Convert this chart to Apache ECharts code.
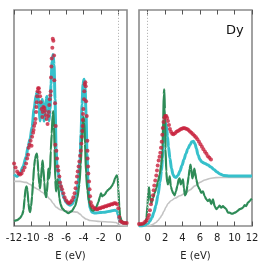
<!DOCTYPE html>
<html><head><meta charset="utf-8">
<script src="https://cdn.jsdelivr.net/npm/echarts@6/dist/echarts.min.js"></script>
<style>html,body{margin:0;padding:0;background:#fff}#c{width:266px;height:266px}</style>
</head><body><div id="c"></div>
<script>
const tickLeft = [-12,-10,-8,-6,-4,-2,0];
const tickRight = [0,2,4,6,8,10,12];
const panelLabel = 'Dy';

const redLeft = [[-11.99,63],[-11.82,59],[-11.64,55],[-11.47,53],[-11.30,52],[-11.13,53],[-10.95,56],[-10.78,59],[-10.61,63],[-10.49,68],[-10.38,72],[-10.32,79],[-10.21,82],[-10.09,86],[-9.98,81],[-9.92,90],[-9.80,94],[-9.75,97],[-9.69,101],[-9.57,104],[-9.52,108],[-9.46,115],[-9.43,120],[-9.38,125],[-9.34,131],[-9.29,136],[-9.23,139],[-9.14,139],[-9.08,135],[-9.00,131],[-8.92,125],[-8.83,118],[-8.74,110],[-8.69,115],[-8.62,120],[-8.51,119],[-8.43,116],[-8.34,112],[-8.25,108],[-8.14,103],[-8.06,111],[-8.00,115],[-7.94,122],[-7.89,128],[-7.82,132],[-7.77,136],[-7.74,150],[-7.70,161],[-7.66,169],[-7.59,180],[-7.54,189],[-7.47,187],[-7.39,172],[-7.36,147],[-7.28,124],[-7.20,101],[-7.25,82],[-7.13,76],[-7.05,68],[-6.97,60],[-6.90,56],[-6.78,50],[-6.70,44],[-6.59,40],[-6.47,37],[-6.32,33],[-6.18,29],[-6.01,26],[-5.84,24],[-5.67,23],[-5.49,24],[-5.32,26],[-5.17,29],[-5.03,33],[-4.92,38],[-4.83,44],[-4.75,50],[-4.67,55],[-4.57,60],[-4.48,65],[-4.40,71],[-4.32,76],[-4.25,83],[-4.20,90],[-4.15,96],[-4.11,101],[-4.09,107],[-4.06,113],[-4.02,118],[-3.94,128],[-3.91,136],[-3.86,143],[-3.79,145],[-3.75,141],[-3.71,126],[-3.63,111],[-3.56,86],[-3.55,76],[-3.54,68],[-3.48,60],[-3.45,53],[-3.37,45],[-3.31,37],[-3.25,30],[-3.17,24],[-3.06,21],[-2.91,19],[-2.74,18],[-2.56,17],[-2.39,17],[-2.22,18],[-2.05,18],[-1.87,19],[-1.70,19],[-1.53,20],[-1.36,20],[-1.18,21],[-1.01,21],[-0.84,22],[-0.67,22],[-0.49,23],[-0.32,23],[-0.15,22],[0.0,18],[0.11,9],[0.23,5],[0.39,4],[0.57,3],[0.77,3],[0.97,3]];

const cyanLeft = [[-11.99,52],[-11.64,50],[-11.30,53],[-10.95,60],[-10.61,70],[-10.38,80],[-10.15,88],[-9.92,100],[-9.69,118],[-9.46,132],[-9.34,135],[-9.23,131],[-9.11,118],[-9.00,106],[-8.89,116],[-8.77,128],[-8.66,124],[-8.54,106],[-8.43,113],[-8.31,128],[-8.20,131],[-8.08,120],[-7.97,106],[-7.85,118],[-7.74,143],[-7.62,166],[-7.51,173],[-7.39,163],[-7.28,128],[-7.16,78],[-7.05,60],[-6.93,54],[-6.82,49],[-6.70,43],[-6.47,34],[-6.24,28],[-6.01,24],[-5.78,22],[-5.55,21],[-5.32,22],[-5.09,25],[-4.86,31],[-4.63,43],[-4.40,66],[-4.29,93],[-4.17,123],[-4.06,143],[-3.94,148],[-3.83,140],[-3.71,113],[-3.60,73],[-3.48,43],[-3.37,26],[-3.25,18],[-3.02,14],[-2.68,13],[-2.10,13.5],[-1.53,14],[-0.95,15],[-0.38,16],[-0.15,15],[0.0,11],[0.11,6],[0.31,4],[0.66,3],[1.0,3]];

const greenLeft = [[-11.99,5],[-11.64,6],[-11.30,8],[-11.07,11],[-10.90,16],[-10.78,28],[-10.66,38],[-10.55,40],[-10.45,36],[-10.34,23],[-10.22,15],[-10.15,14],[-10.03,20],[-9.92,30],[-9.80,45],[-9.69,60],[-9.57,68],[-9.46,72],[-9.38,73],[-9.29,68],[-9.20,54],[-9.08,42],[-9.00,38],[-8.89,48],[-8.80,60],[-8.71,66],[-8.62,58],[-8.51,44],[-8.40,31],[-8.31,29],[-8.22,34],[-8.12,45],[-8.05,58],[-7.97,48],[-7.85,56],[-7.77,76],[-7.66,93],[-7.56,112],[-7.48,116],[-7.39,100],[-7.33,78],[-7.25,46],[-7.16,35],[-7.07,42],[-6.99,47],[-6.90,41],[-6.78,28],[-6.64,22],[-6.47,18],[-6.13,15],[-5.75,13],[-5.36,15],[-4.98,20],[-4.71,28],[-4.48,42],[-4.32,62],[-4.21,82],[-4.09,102],[-4.00,110],[-3.91,104],[-3.83,83],[-3.71,53],[-3.56,36],[-3.33,23],[-3.06,16],[-2.87,15.5],[-2.68,17],[-2.48,20],[-2.30,24],[-2.10,30],[-1.99,33],[-1.84,30],[-1.70,31],[-1.53,32],[-1.33,35],[-1.15,36.5],[-0.95,38],[-0.76,40],[-0.57,43],[-0.38,48],[-0.18,51],[-0.07,49],[0.0,38],[0.11,20],[0.20,10],[0.39,5],[0.77,3],[1.0,3]];

const grayLeft = [[-11.99,45],[-11.30,45],[-10.61,44],[-10.15,42],[-9.69,39],[-9.23,37],[-8.77,34],[-8.31,31],[-7.85,27],[-7.51,23],[-7.16,19],[-6.70,16.5],[-6.01,15],[-5.32,14.5],[-4.75,14],[-4.40,12],[-4.06,9],[-3.71,7],[-3.25,5.5],[-2.10,4.5],[-0.95,4],[-0.26,3.5],[0.02,2],[0.31,0.5],[1.0,0]];

const redRight = [[-1.0,2],[-0.77,2],[-0.54,2.5],[-0.31,4],[-0.14,5.5],[0.03,8],[0.15,11],[0.26,16],[0.38,22],[0.49,26.5],[0.61,31],[0.69,36],[0.76,41],[0.87,46],[0.99,51],[1.07,56],[1.15,61],[1.26,66],[1.36,70],[1.45,74],[1.53,79],[1.61,85],[1.68,92],[1.74,99],[1.82,105],[1.91,109],[2.02,111],[2.14,111],[2.24,109],[2.33,106],[2.45,102],[2.56,98],[2.68,95],[2.82,93],[2.97,92.5],[3.14,93.5],[3.31,95],[3.48,96],[3.66,97],[3.83,98],[4.0,98.5],[4.17,99],[4.34,98.5],[4.52,98],[4.69,97],[4.86,95.5],[5.03,94],[5.21,92.5],[5.38,91],[5.55,89.5],[5.72,87.5],[5.90,85],[6.07,82.5],[6.24,80],[6.41,77.5],[6.59,75],[6.76,73],[6.93,70.5],[7.10,69],[7.28,67]];

const cyanRight = [[-1.0,0],[-0.66,0],[-0.31,1],[0.03,2.5],[0.26,5],[0.49,8.5],[0.72,14],[0.95,21],[1.18,31],[1.41,44],[1.59,56],[1.70,68],[1.82,83],[1.93,98],[2.05,104],[2.16,101],[2.28,90],[2.39,80],[2.56,68],[2.74,58],[2.91,52],[3.08,49.5],[3.25,49],[3.48,51],[3.71,55.5],[3.94,61],[4.17,67],[4.40,73],[4.63,78],[4.86,82],[5.08,85],[5.26,85.5],[5.44,83],[5.61,78],[5.78,72],[6.01,67],[6.24,64.5],[6.59,63],[6.93,61.5],[7.28,59.5],[7.62,57],[7.97,54.5],[8.31,52.5],[8.77,51],[9.46,50.5],[10.61,50.5],[12.0,50.5]];

const greenRight = [[-1.0,1],[-0.66,1.5],[-0.43,2],[-0.25,3.5],[-0.14,8],[-0.02,21],[0.07,35],[0.15,39],[0.24,32],[0.33,25],[0.44,23],[0.61,28],[0.80,33],[0.99,38],[1.18,45],[1.38,52],[1.56,62],[1.70,76],[1.79,108],[1.85,133],[1.91,138],[1.98,118],[2.05,78],[2.14,55],[2.24,44],[2.33,42],[2.45,47],[2.54,50],[2.66,40],[2.79,36],[2.94,33],[3.10,31],[3.25,35],[3.43,41],[3.56,47],[3.68,48],[3.80,42],[3.94,45],[4.06,47],[4.17,38],[4.29,31],[4.44,33],[4.57,41],[4.71,50],[4.83,58],[4.92,62],[5.01,58],[5.13,48],[5.24,50],[5.36,58],[5.46,54],[5.59,47],[5.78,40],[5.98,37],[6.16,33.5],[6.36,35],[6.55,30],[6.74,27],[6.93,25],[7.13,27],[7.31,22],[7.51,27],[7.70,20],[7.89,17],[8.08,18.5],[8.28,20.5],[8.46,18.5],[8.66,20],[8.85,18.5],[9.03,17],[9.23,13.5],[9.43,13.5],[9.63,12.5],[9.80,12.5],[10.01,13.5],[10.18,14],[10.37,15.5],[10.57,17],[10.78,17.5],[10.95,18.5],[11.15,21],[11.33,20],[11.53,23.5],[11.72,25],[11.91,27],[12.0,27.5]];

const grayRight = [[-1.0,0],[-0.2,0],[0.26,0.5],[0.61,1.7],[0.95,3.5],[1.18,5.5],[1.41,8],[1.64,11],[1.87,15],[2.10,19],[2.33,22.5],[2.68,25.5],[3.14,28],[3.71,30.5],[4.29,33],[4.86,36.5],[5.44,40.5],[6.01,44],[6.59,46.5],[7.16,48],[7.85,48.8],[8.89,49],[10.61,49],[12.0,49]];

const FONT = 'DejaVu Sans';
const C_RED = '#c8203c', C_CYAN = '#36c0cb', C_GREEN = '#2e8b57', C_GRAY = '#c4c4c4';

function bottomAxis(idx, min, max, ticks) {
  return {
    type: 'value', gridIndex: idx, position: 'bottom', min: min, max: max,
    name: 'E (eV)', nameLocation: 'middle', nameGap: 25,
    nameTextStyle: {fontFamily: FONT, fontSize: 10, color: '#222'},
    axisLine: {show: false},
    axisTick: {show: true, inside: true, length: 4.5, customValues: ticks, lineStyle: {color: '#555', width: 1}},
    axisLabel: {show: true, margin: 7, customValues: ticks, fontFamily: FONT, fontSize: 10, color: '#222'},
    splitLine: {show: false}
  };
}
function topAxis(idx, min, max, ticks) {
  return {
    type: 'value', gridIndex: idx, position: 'top', min: min, max: max,
    axisLine: {show: false},
    axisTick: {show: true, inside: true, length: 4.5, customValues: ticks, lineStyle: {color: '#555', width: 1}},
    axisLabel: {show: false},
    splitLine: {show: false}
  };
}
function yAx(idx) {
  return {type: 'value', gridIndex: idx, min: 0, max: 218, show: false};
}
function lineS(data, xi, color, width, smooth, z) {
  return {type: 'line', xAxisIndex: xi, yAxisIndex: xi < 2 ? 0 : 1, data: data, showSymbol: false, symbol: 'none',
    smooth: smooth, smoothMonotone: 'x', lineStyle: {color: color, width: width}, z: z, silent: true, animation: false};
}
function zeroLine(xi) {
  return {type: 'line', xAxisIndex: xi, yAxisIndex: xi < 2 ? 0 : 1, data: [], z: 1, silent: true,
    markLine: {symbol: 'none', silent: true, animation: false, label: {show: false},
      lineStyle: {color: '#b8b8b8', type: [1.2, 1.8], width: 1}, data: [{xAxis: 0}]}};
}
function redS(data, xi) {
  return {type: 'scatter', xAxisIndex: xi, yAxisIndex: xi < 2 ? 0 : 1, data: data, symbol: 'circle', symbolSize: 4,
    itemStyle: {color: C_RED}, z: 10, silent: true, animation: false};
}

const chart = echarts.init(document.getElementById('c'), null, {renderer: 'canvas'});
chart.setOption({
  animation: false,
  backgroundColor: '#fff',
  grid: [
    {left: 14, top: 10, width: 113, height: 218, show: true, borderColor: '#8a8a8a', borderWidth: 1.6, backgroundColor: 'transparent'},
    {left: 139, top: 10, width: 113, height: 218, show: true, borderColor: '#8a8a8a', borderWidth: 1.6, backgroundColor: 'transparent'}
  ],
  xAxis: [
    bottomAxis(0, -12, 1, tickLeft), topAxis(0, -12, 1, tickLeft),
    bottomAxis(1, -1, 12, tickRight), topAxis(1, -1, 12, tickRight)
  ],
  yAxis: [yAx(0), yAx(1)],
  graphic: [{type: 'text', left: 226, top: 24, style: {text: panelLabel, fontFamily: FONT, fontSize: 13, fill: '#111'}}],
  series: [
    zeroLine(0), zeroLine(2),
    lineS(grayLeft, 0, C_GRAY, 1.6, 0.3, 2),
    lineS(cyanLeft, 0, C_CYAN, 3, 0.3, 3),
    lineS(greenLeft, 0, C_GREEN, 2.2, 0.2, 4),
    redS(redLeft, 0),
    lineS(grayRight, 2, C_GRAY, 1.6, 0.3, 2),
    lineS(cyanRight, 2, C_CYAN, 3, 0.3, 3),
    lineS(greenRight, 2, C_GREEN, 2.2, 0.2, 4),
    redS(redRight, 2)
  ]
});
</script>
</body></html>
